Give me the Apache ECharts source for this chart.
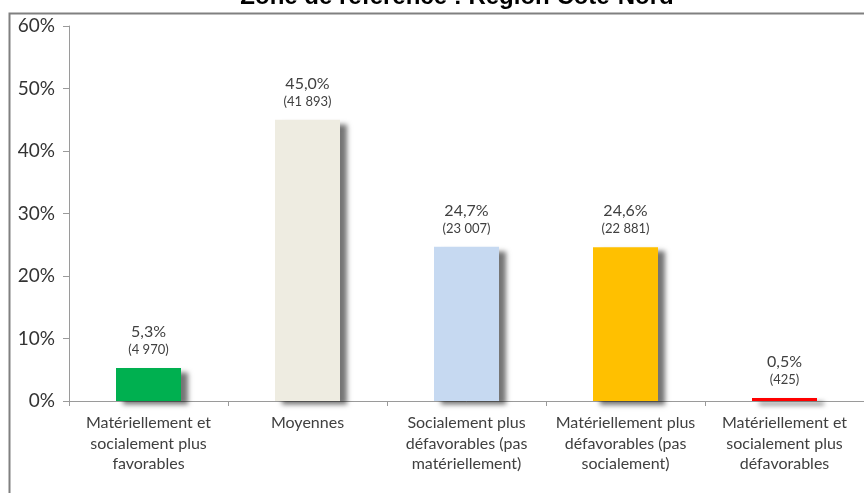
<!DOCTYPE html>
<html>
<head>
<meta charset="utf-8">
<script src="https://cdn.jsdelivr.net/npm/echarts@6/dist/echarts.min.js"></script>
<style>
html,body{margin:0;padding:0;background:#fff;}
#c{width:864px;height:493px;}
</style>
</head>
<body>
<div id="c"></div>
<script>
const titleText = 'Zone de référence : Région Côte-Nord';
const categories = [
  'Matériellement et\nsocialement plus\nfavorables',
  'Moyennes',
  'Socialement plus\ndéfavorables (pas\nmatériellement)',
  'Matériellement plus\ndéfavorables (pas\nsocialement)',
  'Matériellement et\nsocialement plus\ndéfavorables'
];
const percentValues = [5.3, 45.0, 24.7, 24.6, 0.5];
const countLabels = ['4 970', '41 893', '23 007', '22 881', '425'];
const barColors = ['#00B050', '#EEECE1', '#C6D9F1', '#FFC000', '#FF0000'];
const yTicks = [0, 10, 20, 30, 40, 50, 60];

const chart = echarts.init(document.getElementById('c'), null, {renderer: 'canvas'});
const font = 'Lato, "Open Sans", sans-serif';
chart.setOption({
  animation: false,
  title: {
    text: titleText, left: 452, textAlign: 'center', top: -20,
    textStyle: {fontFamily: 'Arial, "Liberation Sans", sans-serif', fontWeight: 'bold', fontSize: 24, color: '#000'}
  },
  graphic: [{
    type: 'rect', left: 7, top: 11, z: -1,
    shape: {x: 0, y: 0, width: 880, height: 500},
    style: {fill: 'none', stroke: '#808080', lineWidth: 2}
  }],
  grid: {left: 69, top: 26, width: 810, height: 375},
  xAxis: {
    type: 'category', data: categories,
    axisLine: {lineStyle: {color: '#9a9a9a', width: 1}},
    axisTick: {show: true, length: 5, lineStyle: {color: '#9a9a9a'}},
    axisLabel: {color: '#404040', fontFamily: font, fontSize: 16, lineHeight: 20.5, margin: 12, interval: 0}
  },
  yAxis: {
    type: 'value', min: 0, max: 60, interval: 10,
    axisLine: {show: true, lineStyle: {color: '#9a9a9a', width: 1}},
    axisTick: {show: true, length: 6, lineStyle: {color: '#9a9a9a'}},
    splitLine: {show: false},
    axisLabel: {color: '#333', fontFamily: font, fontSize: 19, margin: 14, formatter: v => v + '%'}
  },
  series: [{
    type: 'bar', barWidth: 65,
    data: percentValues.map((v, i) => ({
      value: v,
      itemStyle: {color: barColors[i]}
    })),
    itemStyle: {shadowColor: 'rgba(0,0,0,0.55)', shadowBlur: 5, shadowOffsetX: 7, shadowOffsetY: 4},
    label: {
      show: true, position: 'top', distance: 10,
      formatter: p => '{a|' + percentValues[p.dataIndex].toFixed(1).replace('.', ',') + '%}\n{b|(' + countLabels[p.dataIndex] + ')}',
      rich: {
        a: {fontFamily: font, fontSize: 16, color: '#404040', lineHeight: 20},
        b: {fontFamily: font, fontSize: 13, color: '#404040', lineHeight: 16}
      }
    }
  }]
});
</script>
</body>
</html>
